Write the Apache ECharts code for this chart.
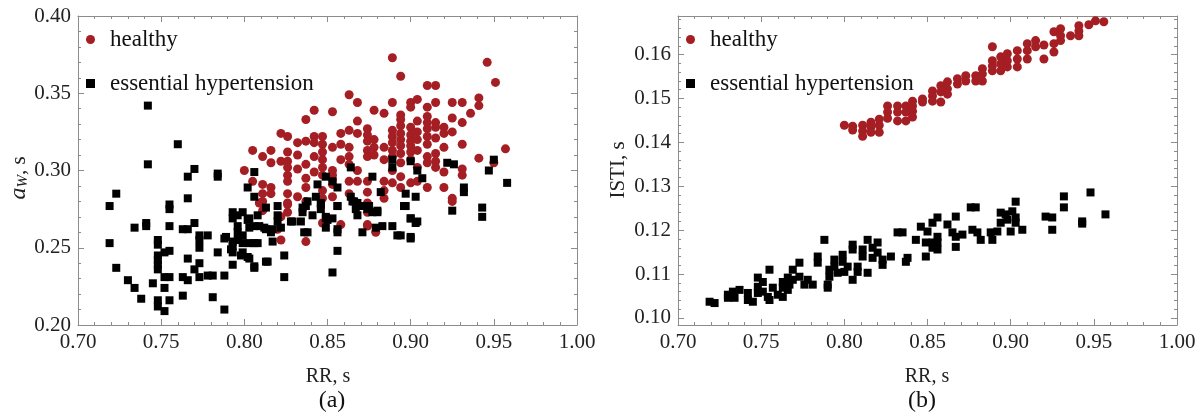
<!DOCTYPE html>
<html lang="en">
<head>
    <meta charset="UTF-8">
    <title>RR scatter</title>
    <script src="https://cdn.jsdelivr.net/npm/echarts@6/dist/echarts.min.js"></script>
    <style>
        html, body { margin: 0; padding: 0; background: #fff; }
        #main { width: 1202px; height: 417px; }
    </style>
</head>
<body>
    <div id="main"></div>
    <script>
        // tick labels
        var rrTicks = [0.70, 0.75, 0.80, 0.85, 0.90, 0.95, 1.00];
        var awTicks = [0.20, 0.25, 0.30, 0.35, 0.40];
        var istiTicks = [0.10, 0.11, 0.12, 0.13, 0.14, 0.15, 0.16];

        // panel (a): [RR, a_W]
        var healthyA = [
            [0.889,0.373],[0.946,0.370],[0.894,0.361],[0.951,0.357],[0.910,0.355],[0.915,0.355],[0.863,0.349],[0.868,0.344],
            [0.889,0.344],[0.900,0.344],[0.904,0.346],[0.915,0.344],[0.925,0.344],[0.931,0.344],[0.941,0.347],[0.941,0.342],
            [0.842,0.339],[0.853,0.338],[0.878,0.339],[0.884,0.337],[0.900,0.341],[0.910,0.341],[0.936,0.337],
            [0.837,0.333],[0.868,0.332],[0.894,0.336],[0.894,0.333],[0.894,0.329],[0.904,0.332],[0.910,0.335],[0.910,0.331],
            [0.915,0.331],[0.925,0.334],[0.931,0.331],
            [0.822,0.324],[0.826,0.322],[0.832,0.318],[0.837,0.319],[0.842,0.322],[0.842,0.318],[0.847,0.322],[0.847,0.317],
            [0.853,0.315],[0.858,0.324],[0.858,0.317],[0.863,0.326],[0.863,0.315],[0.868,0.324],
            [0.874,0.327],[0.874,0.323],[0.874,0.319],[0.874,0.313],[0.874,0.309],[0.878,0.320],[0.878,0.315],[0.884,0.315],
            [0.889,0.326],[0.889,0.322],[0.889,0.318],[0.889,0.313],[0.889,0.309],
            [0.894,0.324],[0.894,0.320],[0.894,0.316],[0.894,0.311],
            [0.900,0.328],[0.900,0.323],[0.900,0.319],[0.900,0.316],[0.900,0.312],[0.900,0.307],
            [0.904,0.325],[0.904,0.320],[0.904,0.313],
            [0.910,0.327],[0.910,0.322],[0.910,0.317],[0.910,0.309],
            [0.915,0.328],[0.915,0.321],[0.915,0.311],[0.915,0.306],
            [0.920,0.328],[0.920,0.324],[0.920,0.315],[0.925,0.325],[0.931,0.317],[0.941,0.308],[0.950,0.305],
            [0.805,0.313],[0.811,0.309],[0.816,0.313],[0.816,0.305],[0.822,0.306],[0.826,0.312],[0.826,0.306],[0.832,0.310],
            [0.837,0.304],[0.842,0.309],[0.847,0.312],[0.847,0.307],[0.858,0.307],[0.863,0.309],[0.863,0.304],[0.868,0.300],
            [0.878,0.310],[0.884,0.307],[0.889,0.300],[0.894,0.305],[0.904,0.302],[0.910,0.305],[0.915,0.302],[0.920,0.299],
            [0.931,0.297],
            [0.800,0.300],[0.826,0.302],[0.826,0.297],[0.826,0.293],[0.832,0.301],[0.837,0.295],[0.842,0.299],[0.847,0.302],
            [0.847,0.297],[0.853,0.300],[0.853,0.297],[0.853,0.294],[0.853,0.291],[0.863,0.293],[0.868,0.293],[0.874,0.293],
            [0.874,0.286],[0.884,0.293],[0.884,0.287],[0.889,0.292],[0.894,0.296],[0.894,0.289],[0.900,0.292],[0.904,0.293],
            [0.910,0.289],[0.920,0.289],[0.925,0.282],
            [0.805,0.293],[0.811,0.291],[0.816,0.289],[0.811,0.285],[0.811,0.280],[0.826,0.285],[0.826,0.279],[0.826,0.273],
            [0.832,0.283],[0.837,0.289],[0.837,0.280],[0.847,0.287],[0.847,0.282],[0.853,0.283],[0.863,0.285],[0.874,0.279],
            [0.874,0.273],[0.884,0.282],
            [0.822,0.270],[0.847,0.266],[0.858,0.265],[0.874,0.265],[0.822,0.255],[0.837,0.254],[0.816,0.285],
            [0.957,0.314],[0.931,0.301],[0.925,0.280],
            [0.809,0.279],[0.811,0.274],[0.826,0.278],[0.820,0.262],[0.874,0.264],[0.879,0.260]
        ];
        var hyperA = [
            [0.742,0.342],[0.742,0.304],[0.760,0.317],[0.723,0.285],[0.719,0.277],[0.755,0.278],[0.766,0.282],[0.766,0.296],
            [0.770,0.301],[0.784,0.298],[0.784,0.296],[0.806,0.299],[0.802,0.289],[0.806,0.283],
            [0.719,0.253],[0.723,0.237],[0.730,0.229],[0.734,0.224],[0.738,0.217],[0.734,0.263],[0.741,0.266],[0.741,0.264],
            [0.745,0.227],
            [0.748,0.255],[0.748,0.252],[0.748,0.245],[0.748,0.242],[0.748,0.239],[0.748,0.236],[0.748,0.216],[0.748,0.212],
            [0.752,0.209],[0.752,0.224],[0.752,0.231],[0.752,0.247],[0.755,0.275],[0.755,0.264],[0.755,0.248],[0.755,0.231],
            [0.755,0.216],
            [0.763,0.262],[0.763,0.219],[0.763,0.231],[0.766,0.229],[0.766,0.262],[0.766,0.243],[0.770,0.266],[0.773,0.258],
            [0.773,0.255],[0.773,0.250],[0.773,0.240],[0.773,0.231],[0.770,0.236],[0.778,0.258],[0.778,0.232],[0.781,0.232],
            [0.781,0.218],[0.784,0.247],[0.788,0.256],[0.788,0.232],[0.788,0.210],
            [0.793,0.273],[0.793,0.269],[0.793,0.254],[0.793,0.251],[0.793,0.247],[0.793,0.239],[0.796,0.271],[0.796,0.264],
            [0.796,0.260],[0.796,0.255],[0.799,0.273],[0.799,0.258],[0.799,0.253],[0.799,0.247],
            [0.803,0.269],[0.803,0.263],[0.803,0.253],[0.803,0.243],[0.806,0.253],[0.806,0.237],[0.806,0.264],[0.809,0.264],
            [0.813,0.262],[0.813,0.276],[0.813,0.241],[0.817,0.262],[0.817,0.254],
            [0.820,0.277],[0.820,0.271],[0.820,0.267],[0.824,0.245],[0.824,0.231],[0.828,0.267],[0.834,0.267],[0.835,0.276],
            [0.835,0.273],[0.838,0.260],[0.841,0.271],[0.846,0.278],[0.849,0.269],[0.849,0.263],[0.853,0.234],[0.853,0.269],
            [0.856,0.277],[0.856,0.262],[0.856,0.248],
            [0.866,0.280],[0.867,0.275],[0.868,0.271],[0.871,0.260],[0.875,0.277],[0.880,0.274],[0.879,0.263],[0.889,0.264],
            [0.892,0.258],
            [0.896,0.277],[0.900,0.269],[0.903,0.266],[0.894,0.258],[0.900,0.256],[0.925,0.274],[0.943,0.276],[0.943,0.270],
            [0.808,0.271],[0.802,0.268],[0.829,0.267],[0.812,0.263],[0.816,0.260],[0.822,0.263],[0.789,0.257],[0.808,0.253],
            [0.792,0.249],[0.798,0.245],[0.802,0.244],[0.806,0.238],[0.814,0.241],
            [0.837,0.277],[0.838,0.280],[0.836,0.260],[0.844,0.291],[0.843,0.283],[0.846,0.279],[0.846,0.275],[0.849,0.296],
            [0.853,0.293],[0.856,0.289],[0.849,0.270],[0.850,0.268],[0.856,0.260],[0.856,0.277],
            [0.864,0.302],[0.864,0.283],[0.865,0.280],[0.868,0.279],[0.871,0.277],[0.874,0.275],[0.877,0.273],[0.877,0.296],
            [0.882,0.286],[0.880,0.273],[0.883,0.264],[0.889,0.307],[0.889,0.302],[0.897,0.285],[0.897,0.277],[0.900,0.306],
            [0.900,0.269],[0.900,0.257],[0.904,0.300],[0.907,0.295],[0.903,0.283],[0.904,0.267],[0.922,0.305],[0.926,0.304],
            [0.932,0.289],[0.932,0.286],[0.947,0.300],[0.950,0.307],[0.958,0.292]
        ];

        // panel (b): [RR, ISTI]
        var healthyB = [
            [0.800,0.1439],[0.805,0.1437],[0.805,0.1428],[0.811,0.1439],[0.811,0.1426],[0.811,0.1414],[0.816,0.1446],
            [0.816,0.1435],[0.816,0.1423],[0.821,0.1453],[0.821,0.1439],[0.821,0.1423],[0.826,0.1483],[0.826,0.1469],
            [0.826,0.1455],[0.832,0.1483],[0.832,0.1469],[0.832,0.1449],[0.837,0.1483],[0.837,0.1469],[0.837,0.1449],
            [0.841,0.1494],[0.841,0.1483],[0.841,0.1471],[0.841,0.1458],[0.847,0.1499],[0.847,0.1492],[0.853,0.1517],
            [0.853,0.1506],[0.853,0.1494],[0.858,0.1529],[0.858,0.1515],[0.858,0.1492],[0.862,0.1538],[0.862,0.1522],
            [0.862,0.1510],[0.868,0.1545],[0.868,0.1533],[0.873,0.1552],[0.873,0.1540],[0.879,0.1552],[0.879,0.1540],
            [0.883,0.1568],[0.883,0.1556],[0.883,0.1540],[0.889,0.1618],[0.889,0.1586],[0.889,0.1574],[0.889,0.1563],
            [0.894,0.1595],[0.894,0.1579],[0.894,0.1563],[0.898,0.1602],[0.898,0.1586],[0.898,0.1572],[0.904,0.1609],
            [0.904,0.1590],[0.904,0.1572],[0.910,0.1625],[0.910,0.1609],[0.910,0.1590],[0.915,0.1632],[0.915,0.1618],
            [0.920,0.1590],[0.920,0.1622],[0.926,0.1652],[0.926,0.1625],[0.926,0.1606],[0.930,0.1659],[0.930,0.1643],
            [0.930,0.1632],[0.936,0.1643],[0.941,0.1666],[0.941,0.1654],[0.941,0.1643],[0.947,0.1668],[0.951,0.1677],
            [0.956,0.1675]
        ];
        var hyperB = [
            [0.719,0.1037],[0.722,0.1034],[0.730,0.1053],[0.730,0.1046],[0.733,0.1060],[0.734,0.1046],[0.737,0.1064],
            [0.742,0.1057],[0.742,0.1041],[0.745,0.1037],[0.748,0.1071],[0.748,0.1057],[0.748,0.1092],[0.751,0.1082],
            [0.751,0.1060],[0.754,0.1048],[0.755,0.1110],[0.755,0.1041],[0.757,0.1069],[0.760,0.1053],[0.763,0.1082],
            [0.763,0.1069],[0.763,0.1048],[0.766,0.1092],[0.766,0.1064],[0.767,0.1076],[0.769,0.1110],[0.769,0.1087],
            [0.773,0.1126],[0.773,0.1094],[0.776,0.1076],[0.778,0.1087],[0.781,0.1076],[0.784,0.1140],[0.784,0.1126],
            [0.788,0.1178],[0.790,0.1076],[0.790,0.1069],[0.791,0.1110],[0.791,0.1094],[0.794,0.1133],[0.794,0.1117],
            [0.796,0.1103],[0.799,0.1144],[0.799,0.1128],[0.800,0.1105],[0.802,0.1117],[0.805,0.1167],[0.805,0.1156],
            [0.805,0.1087],[0.808,0.1117],[0.808,0.1105],[0.811,0.1156],[0.811,0.1140],[0.814,0.1178],[0.814,0.1103],
            [0.817,0.1160],[0.817,0.1137],[0.820,0.1172],[0.820,0.1149],[0.823,0.1133],[0.823,0.1121],[0.828,0.1140],
            [0.832,0.1195],[0.835,0.1195],[0.837,0.1128],[0.838,0.1137],[0.843,0.1178],[0.846,0.1208],[0.849,0.1172],
            [0.849,0.1140],[0.850,0.1197],[0.853,0.1217],[0.853,0.1172],[0.853,0.1160],[0.856,0.1229],[0.856,0.1185],
            [0.856,0.1172],[0.856,0.1156],[0.862,0.1213],[0.865,0.1195],[0.867,0.1231],[0.867,0.1185],[0.867,0.1162],
            [0.871,0.1190],[0.876,0.1252],[0.879,0.1252],[0.877,0.1201],[0.880,0.1195],[0.882,0.1178],[0.888,0.1195],
            [0.889,0.1178],[0.892,0.1197],[0.894,0.1240],[0.894,0.1217],[0.897,0.1236],[0.898,0.1224],[0.901,0.1243],
            [0.903,0.1265],[0.903,0.1229],[0.903,0.1217],[0.900,0.1197],[0.907,0.1201],[0.921,0.1231],[0.925,0.1229],
            [0.925,0.1201],[0.932,0.1252],[0.943,0.1220],[0.943,0.1215],[0.957,0.1236],[0.932,0.1277],[0.948,0.1286]
        ];

        var serif = 'Liberation Serif';
        var frameColor = '#8c8c8c';
        var red = '#a41e24';

        function minorOf(lo, hi, step, majors) {
            var out = [];
            for (var i = Math.round(lo / step); i <= Math.round(hi / step); i++) {
                var v = +(i * step).toFixed(4);
                if (majors.indexOf(v) < 0) out.push(v);
            }
            return out;
        }

        // four sides of a framed panel, major + minor ticks pointing inward
        function frame(gi, sides, min, max, majors, minors) {
            var axes = [];
            sides.forEach(function (pos, k) {
                [true, false].forEach(function (isMajor) {
                    axes.push({
                        type: 'value', gridIndex: gi, position: pos, min: min, max: max,
                        splitLine: { show: false },
                        axisLine: { show: isMajor, onZero: false, lineStyle: { color: frameColor, width: 1 } },
                        axisTick: {
                            inside: true, length: isMajor ? 6 : 3,
                            customValues: isMajor ? majors : minors,
                            lineStyle: { color: frameColor, width: 1 }
                        },
                        axisLabel: {
                            show: isMajor && k === 0,
                            customValues: majors,
                            margin: 7,
                            color: '#222', fontSize: 21, fontFamily: serif,
                            formatter: function (v) { return v.toFixed(2); }
                        }
                    });
                });
            });
            return axes;
        }

        var xAxes = [].concat(
            frame(0, ['bottom', 'top'], 0.70, 1.00, rrTicks, minorOf(0.70, 1.00, 0.01, rrTicks)),
            frame(1, ['bottom', 'top'], 0.70, 1.00, rrTicks, minorOf(0.70, 1.00, 0.01, rrTicks))
        );
        var yAxes = [].concat(
            frame(0, ['left', 'right'], 0.20, 0.40, awTicks, minorOf(0.20, 0.40, 0.01, awTicks)),
            frame(1, ['left', 'right'], 0.0984, 0.1688, istiTicks, minorOf(0.100, 0.168, 0.002, istiTicks))
        );

        function legendFor(left) {
            return {
                left: left, top: 28, padding: 0, orient: 'vertical', itemGap: 21,
                itemWidth: 9, itemHeight: 9, selectedMode: false,
                textStyle: { fontSize: 23, fontFamily: serif, color: '#111', padding: [0, 0, 0, 10] },
                data: [{ name: 'healthy', icon: 'circle' }, { name: 'essential hypertension', icon: 'rect' }]
            };
        }

        function scatter(name, data, gi, sym, size, color) {
            return {
                name: name, type: 'scatter', data: data,
                xAxisIndex: gi * 4, yAxisIndex: gi * 4,
                symbol: sym, symbolSize: size,
                itemStyle: { color: color, opacity: 1 },
                emphasis: { disabled: true }
            };
        }

        var chart = echarts.init(document.getElementById('main'), null, { renderer: 'canvas' });
        chart.setOption({
            animation: false,
            backgroundColor: '#fff',
            textStyle: { fontFamily: serif },
            grid: [
                { left: 78, top: 16, width: 499, height: 309, outerBoundsMode: 'none' },
                { left: 678, top: 16, width: 499, height: 309, outerBoundsMode: 'none' }
            ],
            xAxis: xAxes,
            yAxis: yAxes,
            legend: [legendFor(86), legendFor(686)],
            series: [
                scatter('healthy', healthyA, 0, 'circle', 9, red),
                scatter('essential hypertension', hyperA, 0, 'rect', 8, '#000'),
                scatter('healthy', healthyB, 1, 'circle', 9, red),
                scatter('essential hypertension', hyperB, 1, 'rect', 8, '#000')
            ],
            graphic: [
                { type: 'text', x: 328, y: 377, style: { text: 'RR, s', fontFamily: serif, fontSize: 20, fill: '#222', align: 'center', verticalAlign: 'middle' } },
                { type: 'text', x: 927, y: 377, style: { text: 'RR, s', fontFamily: serif, fontSize: 20, fill: '#222', align: 'center', verticalAlign: 'middle' } },
                { type: 'text', x: 332, y: 401, style: { text: '(a)', fontFamily: serif, fontSize: 24, fill: '#111', align: 'center', verticalAlign: 'middle' } },
                { type: 'text', x: 922, y: 401, style: { text: '(b)', fontFamily: serif, fontSize: 24, fill: '#111', align: 'center', verticalAlign: 'middle' } },
                {
                    type: 'text', x: 19, y: 178, rotation: Math.PI / 2,
                    style: {
                        text: '{i|a}{s|W}{n|, s}', align: 'center', verticalAlign: 'middle', fill: '#222',
                        rich: {
                            i: { fontFamily: serif, fontStyle: 'italic', fontSize: 24, fill: '#222' },
                            s: { fontFamily: serif, fontStyle: 'italic', fontSize: 15, fill: '#222', padding: [8, 0, 0, 0] },
                            n: { fontFamily: serif, fontSize: 21, fill: '#222' }
                        }
                    }
                },
                { type: 'text', x: 618, y: 170, rotation: Math.PI / 2, style: { text: 'ISTI, s', fontFamily: serif, fontSize: 21, fill: '#222', align: 'center', verticalAlign: 'middle' } }
            ]
        });
    </script>
</body>
</html>
